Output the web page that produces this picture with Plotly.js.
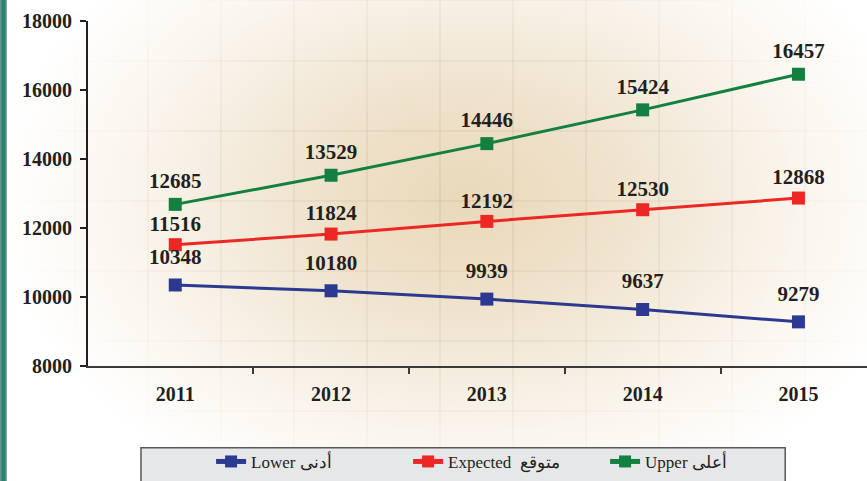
<!DOCTYPE html>
<html>
<head>
<meta charset="utf-8">
<script src="https://cdn.plot.ly/plotly-3.0.1.min.js"></script>
<style>
  html, body { margin: 0; padding: 0; background: #ffffff; }
  #wrap { position: relative; width: 867px; height: 481px; overflow: hidden; background: #ffffff; }
  #bg {
    position: absolute; left: 0; top: 0; width: 867px; height: 481px;
    background: radial-gradient(ellipse 470px 330px at 465px 200px, #ead9ba 0%, #eee0c7 25%, #f4ebdc 50%, #fbf7f0 75%, #ffffff 100%);
  }
  #grid {
    position: absolute; left: 0; top: 0; width: 867px; height: 481px;
    background:
      repeating-linear-gradient(90deg, rgba(150,130,100,0.13) 0px, rgba(150,130,100,0.13) 2px, rgba(0,0,0,0) 2px, rgba(0,0,0,0) 73px),
      repeating-linear-gradient(0deg, rgba(150,130,100,0.11) 0px, rgba(150,130,100,0.11) 2px, rgba(0,0,0,0) 2px, rgba(0,0,0,0) 70px);
    background-position: 1px 0, 0 1px;
    -webkit-mask-image: radial-gradient(ellipse 470px 330px at 465px 200px, #000 0%, rgba(0,0,0,0.7) 45%, rgba(0,0,0,0) 100%);
    mask-image: radial-gradient(ellipse 470px 330px at 465px 200px, #000 0%, rgba(0,0,0,0.7) 45%, rgba(0,0,0,0) 100%);
  }
  #strip {
    position: absolute; left: 0; top: 0; width: 7px; height: 481px;
    background: linear-gradient(90deg, #6a9c93 0%, #2f7d6d 35%, #2f7d6d 70%, #8fbbb2 100%);
  }
  #chart { position: absolute; left: 0; top: 0; width: 867px; height: 481px; }
</style>
</head>
<body>
<div id="wrap">
  <div id="bg"></div>
  <div id="grid"></div>
  <div id="strip"></div>
  <div id="chart"></div>
</div>
<script>
// ---- data ----
const years = ['2011', '2012', '2013', '2014', '2015'];
const lowerValues = [10348, 10180, 9939, 9637, 9279];
const expectedValues = [11516, 11824, 12192, 12530, 12868];
const upperValues = [12685, 13529, 14446, 15424, 16457];
const seriesNames = ['Lower أدنى', 'Expected  متوقع', 'Upper أعلى'];
const yTicks = [8000, 10000, 12000, 14000, 16000, 18000];

const colors = ['#2b3990', '#ed2724', '#13803f'];
const labelGap = [24, 12, 16]; // invisible marker size controlling label offset
const serif = 'Liberation Serif, Times New Roman, serif';

const seriesValues = [lowerValues, expectedValues, upperValues];
const xIdx = years.map((y, i) => i);
const boundaries = xIdx.slice(0, -1).map(i => i + 0.5);

const lineTraces = seriesValues.map((vals, i) => ({
  type: 'scatter',
  mode: 'lines+markers',
  x: xIdx,
  y: vals,
  name: seriesNames[i],
  line: { color: colors[i], width: 3 },
  marker: { color: colors[i], size: 13, symbol: 'square' },
  cliponaxis: false,
  hoverinfo: 'skip'
}));

// value labels: text placed above an invisible marker
const labelTraces = seriesValues.map((vals, i) => ({
  type: 'scatter',
  mode: 'markers+text',
  x: xIdx,
  y: vals,
  text: vals.map(String),
  textposition: 'top center',
  textfont: { family: serif, size: 21, weight: 'bold', color: '#231f20' },
  marker: { size: labelGap[i], color: 'rgba(0,0,0,0)' },
  showlegend: false,
  cliponaxis: false,
  hoverinfo: 'skip'
}));

const layout = {
  width: 867, height: 481,
  margin: { l: 88, r: 0, t: 21, b: 115, pad: 0 },
  paper_bgcolor: 'rgba(0,0,0,0)',
  plot_bgcolor: 'rgba(0,0,0,0)',
  showlegend: true,
  legend: {
    orientation: 'h',
    x: 0.158, xanchor: 'left',
    y: -0.278, yanchor: 'middle',
    bgcolor: 'rgba(0,0,0,0)',
    entrywidth: 152,
    entrywidthmode: 'pixels',
    itemsizing: 'constant',
    font: { family: serif, size: 17, color: '#231f20' }
  },
  xaxis: {
    type: 'linear',
    range: [-0.56, 4.44],
    tickmode: 'array',
    tickvals: xIdx,
    ticktext: years,
    ticks: '',
    showgrid: false, zeroline: false,
    showline: true, linecolor: '#3a3a3a', linewidth: 2,
    ticklabelstandoff: 9,
    tickfont: { family: serif, size: 20, weight: 'bold', color: '#231f20' },
    minor: {
      tickmode: 'array', tickvals: boundaries,
      ticks: 'outside', ticklen: 6, tickwidth: 2, tickcolor: '#3a3a3a', showgrid: false
    },
    fixedrange: true
  },
  yaxis: {
    range: [8000, 18000],
    tickvals: yTicks,
    ticktext: yTicks.map(String),
    showgrid: false, zeroline: false,
    showline: true, linecolor: '#231f20', linewidth: 2,
    ticks: 'outside', ticklen: 6, tickwidth: 2, tickcolor: '#231f20',
    ticklabelstandoff: 4,
    tickfont: { family: serif, size: 20, weight: 'bold', color: '#231f20' },
    fixedrange: true
  },
  shapes: [{
    type: 'rect', xref: 'paper', yref: 'paper', layer: 'below',
    x0: 0.068, x1: 0.895, y0: -0.237, y1: -0.40,
    fillcolor: '#e6e7e8', line: { color: '#58595b', width: 1.5 }
  }]
};

Plotly.newPlot('chart', lineTraces.concat(labelTraces), layout, { displayModeBar: false, staticPlot: true });
</script>
</body>
</html>
